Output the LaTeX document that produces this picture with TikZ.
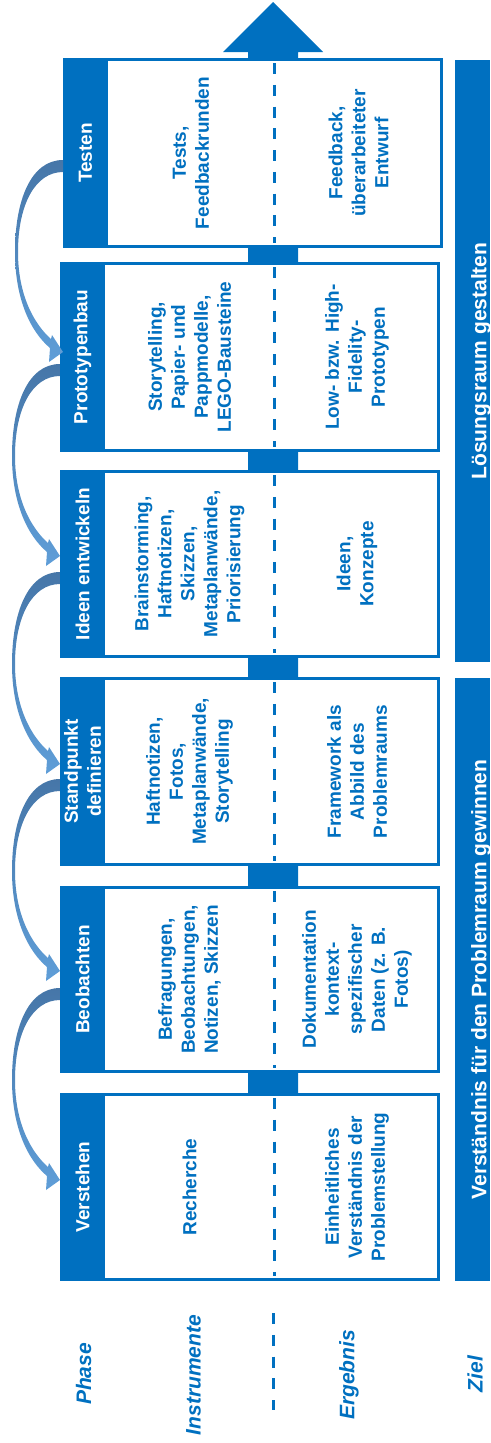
\documentclass[tikz,border=0pt]{standalone}
\usepackage{fontspec}
\setmainfont{Liberation Sans}
\definecolor{myblue}{RGB}{0,112,192}
\definecolor{arrdark}{RGB}{70,118,168}
\definecolor{arrlight}{RGB}{95,158,216}
\newcommand\mkbox[8]{%
 \pgfmathsetmacro\mbw{#4-#2-3}%
 \pgfmathsetmacro\mbh{#5-#3-3}%
 \pgfmathsetmacro\mph{#5-#3}%
 \pgfmathsetmacro\miw{274-#2-45}%
 \pgfmathsetmacro\mew{#4-274}%
 \node[frame, minimum width=\mbw pt, minimum height=\mbh pt, anchor=north west] (#1f) at (#2+1.5,#3+1.5) {};
 \node[phasebar, minimum width=45pt, minimum height=\mph pt, anchor=north west] (#1p) at (#2,#3) {};
 \node[cell, minimum width=\miw pt, minimum height=\mph pt, anchor=north west] (#1i) at (#2+45,#3) {};
 \node[cell, minimum width=\mew pt, minimum height=\mph pt, anchor=north west] (#1e) at (274,#3) {};
 \draw[divider] ([yshift=-5pt]#1i.north east) -- ([yshift=5pt]#1i.south east);
 \node[ptext] (#1pt) at (#1p) {#6};
 \node[ctext] (#1it) at (#1i) {#7};
 \node[ctext] (#1et) at (#1e) {#8};
}
\begin{document}
\begin{tikzpicture}[x=1pt,y=-1pt,
 frame/.style={rectangle, draw=myblue, line width=3pt, fill=white, inner sep=0pt, outer sep=0pt},
 phasebar/.style={rectangle, fill=myblue, inner sep=0pt, outer sep=0pt},
 cell/.style={rectangle, inner sep=0pt, outer sep=0pt},
 divider/.style={draw=myblue, line width=3pt, dash pattern=on 11pt off 10.75pt},
 ptext/.style={text=white, font=\bfseries\fontsize{19}{23}\selectfont, rotate=90, align=center, inner sep=0pt},
 ctext/.style={text=myblue, font=\bfseries\fontsize{19}{23}\selectfont, rotate=90, align=center, inner sep=0pt},
 zbar/.style={rectangle, fill=myblue, inner sep=0pt, outer sep=0pt},
 ztext/.style={text=white, font=\bfseries\fontsize{21}{25}\selectfont, rotate=90, inner sep=0pt},
 legend/.style={text=myblue, font=\bfseries\itshape\fontsize{21}{25}\selectfont, rotate=90, inner sep=0pt},
 loopar/.pic={
  \shade[top color=arrdark, bottom color=arrlight]
   (0,0) .. controls (-32,0) and (-48,40) .. (-48,92)
   .. controls (-48,140) and (-32,172) .. (-13,188)
   -- (-14,202) -- (0,192) -- (-11,175) -- (-12,179)
   .. controls (-29,164) and (-45,135) .. (-45,92)
   .. controls (-45,45) and (-28,12) .. (0,12) -- cycle;
 }]
\useasboundingbox (0,0) rectangle (490,1443);
% big upward arrow behind the boxes
\fill[myblue] (248,1200) -- (248,52) -- (223,52) -- (273,2) -- (323,52) -- (298,52) -- (298,1200) -- cycle;
% phase boxes
\mkbox{T}{63}{58}{443}{248}{Testen}{Tests,\\Feedbackrunden}{Feedback,\\überarbeiteter\\Entwurf}
\mkbox{P}{60}{262}{440}{452}{Prototypenbau}{Storytelling,\\Papier- und\\Pappmodelle,\\LEGO-Bausteine}{Low- bzw. High-\\Fidelity-\\Prototypen}
\mkbox{I}{60}{470}{440}{658}{Ideen entwickeln}{Brainstorming,\\Haftnotizen,\\Skizzen,\\Metaplanwände,\\Priorisierung}{Ideen,\\Konzepte}
\mkbox{S}{60}{677}{440}{866}{Standpunkt\\definieren}{Haftnotizen,\\Fotos,\\Metaplanwände,\\Storytelling}{Framework als\\Abbild des\\Problemraums}
\mkbox{B}{60}{886}{440}{1073}{Beobachten}{Befragungen,\\Beobachtungen,\\Notizen, Skizzen}{Dokumentation\\kontext-\\spezifischer\\Daten (z. B.\\Fotos)}
\mkbox{V}{60}{1093}{440}{1281}{Verstehen}{Recherche}{Einheitliches\\Verständnis der\\Problemstellung}
% curved iteration arrows
\pic at ([shift={(0,102)}]Tp.north west) {loopar};
\pic at ([shift={(0,102)}]Pp.north west) {loopar};
\pic at ([shift={(0,102)}]Ip.north west) {loopar};
\pic at ([shift={(0,102)}]Sp.north west) {loopar};
\pic at ([shift={(0,102)}]Bp.north west) {loopar};
% goal bars
\node[zbar, minimum width=35pt, minimum height=602pt, anchor=north west] (Z1) at (455,60) {};
\node[zbar, minimum width=35pt, minimum height=603pt, anchor=north west] (Z2) at (455,678) {};
\node[ztext] (Z1t) at ([xshift=8.5pt]Z1.center) {Lösungsraum gestalten};
\node[ztext] (Z2t) at ([xshift=8.5pt]Z2.center) {Verständnis für den Problemraum gewinnen};
% legend
\node[legend] (Lp) at (83.5,1374) {Phase};
\node[legend] (Li) at (193.5,1375) {Instrumente};
\node[legend] (Le) at (349,1375) {Ergebnis};
\node[legend] (Lz) at (475,1374) {Ziel};
\coordinate (La) at (273,1313);
\coordinate (Lb) at (273,1410);
\draw[divider] (La) -- (Lb);
\end{tikzpicture}
\end{document}
